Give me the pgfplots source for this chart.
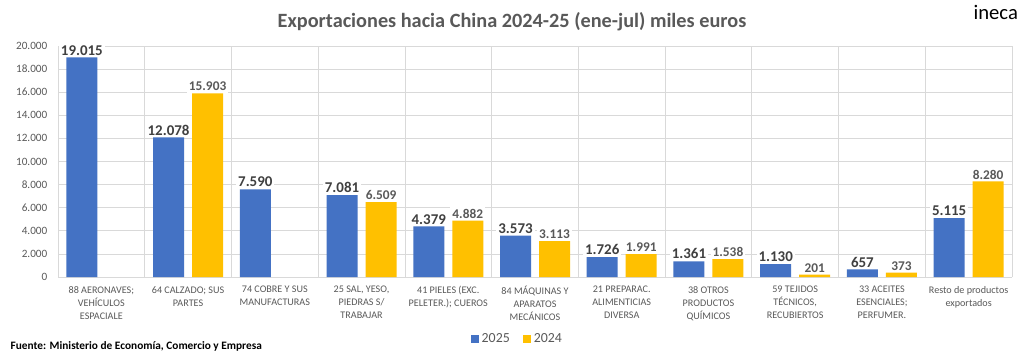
\documentclass[border=0pt]{standalone}
\usepackage{fontspec}
\setmainfont{Carlito}
\usepackage{pgfplots}
\pgfplotsset{compat=1.18}
\definecolor{cblue}{HTML}{4472C4}
\definecolor{cyellow}{HTML}{FFC000}
\definecolor{cgrid}{HTML}{D9D9D9}
\definecolor{ctext}{HTML}{595959}
\definecolor{cdark}{HTML}{404040}
\begin{document}
\begin{tikzpicture}
\path[use as bounding box,fill=white] (0,0) rectangle (768pt,267.75pt);
\begin{axis}[
  at={(43.5pt,60pt)}, anchor=south west,
  scale only axis, width=715.5pt, height=173.25pt,
  ybar=6pt, bar width=23.25pt,
  xmin=-0.5, xmax=10.5, ymin=0, ymax=20000,
  clip=false,
  axis line style={draw=none},
  major tick length=0pt, minor tick length=0pt,
  ytick={0,2000,...,20000},
  scaled y ticks=false,
  ymajorgrids, xminorgrids,
  grid style={cgrid, line width=0.6pt},
  minor xtick={-0.5,0.5,...,10.5},
  xtick={0,...,10},
  xticklabels={{88 AERONAVES;\\VEHÍCULOS\\ESPACIALE},{64 CALZADO; SUS\\PARTES},{74 COBRE Y SUS\\MANUFACTURAS},{25 SAL, YESO,\\PIEDRAS S/\\TRABAJAR},{41 PIELES (EXC.\\PELETER.); CUEROS},{84 MÁQUINAS Y\\APARATOS\\MECÁNICOS},{21 PREPARAC.\\ALIMENTICIAS\\DIVERSA},{38 OTROS\\PRODUCTOS\\QUÍMICOS},{59 TEJIDOS\\TÉCNICOS,\\RECUBIERTOS},{33 ACEITES\\ESENCIALES;\\PERFUMER.},{Resto de productos\\exportados}},
  xticklabel style={align=center, font=\fontsize{7.6}{9.75}\selectfont, text=ctext, yshift=-3.5pt},
  yticklabel style={font=\fontsize{8.4}{10}\selectfont, text=ctext, xshift=-4.5pt},
  /pgf/number format/.cd, fixed, precision=0, 1000 sep={.}, assume math mode=true,
  /pgfplots/.cd,
  nodes near coords,
  every node near coord/.append style={fill=white, inner sep=1.5pt},
  legend columns=2,
  legend style={at={(0.482,-0.27)}, anchor=center, draw=none, fill=none,
    font=\fontsize{10.4}{12}\selectfont, text=ctext,
    /tikz/every even column/.append style={column sep=8pt}},
  legend image code/.code={\fill[#1,draw=none] (0pt,-3pt) rectangle (6pt,3pt);},
]
\addplot[fill=cblue, draw=none,
  every node near coord/.append style={font=\bfseries\fontsize{11.2}{13}\selectfont, text=cdark}]
  coordinates {(0,19015) (1,12078) (2,7590) (3,7081) (4,4379) (5,3573) (6,1726) (7,1361) (8,1130) (9,657) (10,5115)};
\addlegendentry{2025}
\addplot[fill=cyellow, draw=none,
  every node near coord/.append style={font=\bfseries\fontsize{10}{12}\selectfont, text=ctext}]
  coordinates {(1,15903) (3,6509) (4,4882) (5,3113) (6,1991) (7,1538) (8,201) (9,373) (10,8280)};
\addlegendentry{2024}
\end{axis}
\node[font=\bfseries\fontsize{15.2}{18}\selectfont, text=ctext] at (384pt,251.25pt) {Exportaciones hacia China 2024-25 (ene-jul) miles euros};
\node[font=\fontsize{15.5}{18}\selectfont, anchor=east] at (767pt,258.75pt) {ineca};
\node[font=\bfseries\fontsize{8.5}{10}\selectfont, anchor=west, text=black] at (4.5pt,8pt) {Fuente: Ministerio de Economía, Comercio y Empresa};
\end{tikzpicture}
\end{document}
